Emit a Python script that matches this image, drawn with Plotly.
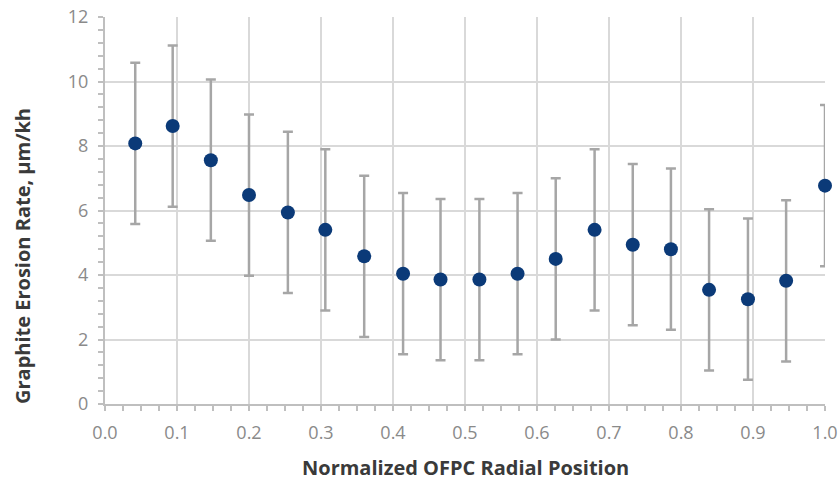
import plotly.graph_objects as go

radial_position = [0.042, 0.094, 0.147, 0.200, 0.254, 0.306, 0.360, 0.414, 0.466, 0.520,
                   0.573, 0.626, 0.680, 0.733, 0.786, 0.839, 0.893, 0.946, 1.000]
erosion_rate = [8.08, 8.62, 7.56, 6.48, 5.94, 5.40, 4.58, 4.04, 3.86, 3.86,
                4.04, 4.50, 5.40, 4.94, 4.80, 3.54, 3.25, 3.82, 6.77]
error_bar = [2.5, 2.5, 2.5, 2.5, 2.5, 2.5, 2.5, 2.5, 2.5, 2.5,
             2.5, 2.5, 2.5, 2.5, 2.5, 2.5, 2.5, 2.5, 2.5]

x_ticks = [0.0, 0.1, 0.2, 0.3, 0.4, 0.5, 0.6, 0.7, 0.8, 0.9, 1.0]
x_tick_labels = ["0.0", "0.1", "0.2", "0.3", "0.4", "0.5", "0.6", "0.7", "0.8", "0.9", "1.0"]
y_ticks = [0, 2, 4, 6, 8, 10, 12]
x_range = [0, 1]
y_range = [0, 12]

fig = go.Figure()
fig.add_trace(go.Scatter(
    x=radial_position, y=erosion_rate, mode="markers",
    marker=dict(color="#0b3a78", size=14),
    error_y=dict(type="data", array=error_bar, visible=True,
                 color="#a6a6a6", thickness=2.5, width=5),
    cliponaxis=False, showlegend=False,
))

tick_font = dict(family="Open Sans", size=18, color="#8a8a8a")
title_font = dict(family="Open Sans", size=20, color="#3a3a3a")
tick_col = "#bfbfbf"

fig.update_layout(
    width=840, height=481,
    margin=dict(l=105, r=15, t=17, b=77, autoexpand=False),
    paper_bgcolor="white", plot_bgcolor="white",
    xaxis=dict(
        range=x_range, tickvals=x_ticks, ticktext=x_tick_labels,
        showgrid=True, gridcolor="#d9d9d9", gridwidth=2,
        showline=True, linecolor=tick_col, linewidth=2,
        ticks="outside", ticklen=5, tickcolor=tick_col, tickwidth=2,
        minor=dict(dtick=0.025, tick0=0, ticks="outside", ticklen=5,
                   tickcolor=tick_col, tickwidth=2, showgrid=False),
        tickfont=tick_font, zeroline=False, ticklabelstandoff=6, automargin=False,
    ),
    yaxis=dict(
        range=y_range, tickvals=y_ticks,
        showgrid=True, gridcolor="#d9d9d9", gridwidth=2,
        showline=True, linecolor=tick_col, linewidth=2,
        ticks="outside", ticklen=5, tickcolor=tick_col, tickwidth=2,
        minor=dict(dtick=0.4, tick0=0, ticks="outside", ticklen=5,
                   tickcolor=tick_col, tickwidth=2, showgrid=False),
        tickfont=tick_font, zeroline=False, ticklabelstandoff=6, automargin=False,
    ),
    xaxis2=dict(
        overlaying="x", anchor="y", side="bottom", range=x_range,
        tickvals=x_ticks, showticklabels=False, showgrid=False, showline=False,
        zeroline=False, ticks="inside", ticklen=5, tickcolor=tick_col, tickwidth=2,
        minor=dict(dtick=0.025, tick0=0, ticks="inside", ticklen=5,
                   tickcolor=tick_col, tickwidth=2, showgrid=False),
    ),
    yaxis2=dict(
        overlaying="y", anchor="x", side="left", range=y_range,
        tickvals=y_ticks, showticklabels=False, showgrid=False, showline=False,
        zeroline=False, ticks="inside", ticklen=5, tickcolor=tick_col, tickwidth=2,
        minor=dict(dtick=0.4, tick0=0, ticks="inside", ticklen=5,
                   tickcolor=tick_col, tickwidth=2, showgrid=False),
    ),
)

fig.add_annotation(
    text="<b>Graphite Erosion Rate, µm/kh</b>", textangle=-90,
    xref="paper", yref="paper", x=(22 - 105) / 720, y=(404 - 256) / 387,
    xanchor="center", yanchor="middle", showarrow=False, font=title_font,
)
fig.add_annotation(
    text="<b>Normalized OFPC Radial Position</b>",
    xref="paper", yref="paper", x=0.5, y=(404 - 467) / 387,
    xanchor="center", yanchor="middle", showarrow=False, font=title_font,
)

fig.write_html("out.html")
